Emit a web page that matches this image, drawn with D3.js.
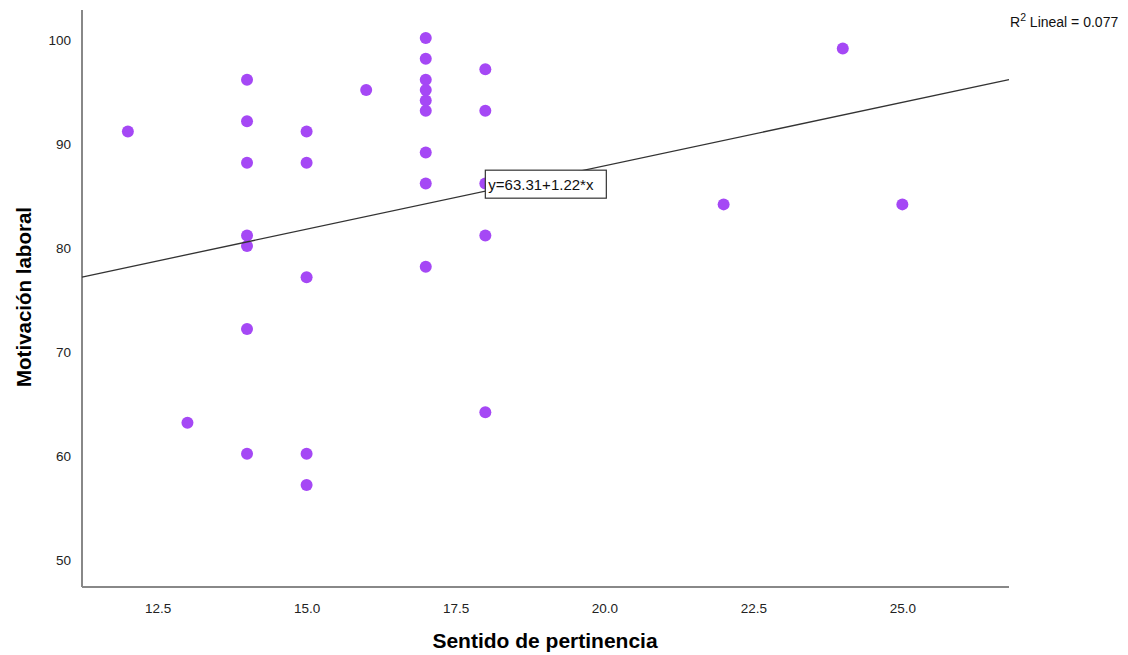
<!DOCTYPE html>
<html><head><meta charset="utf-8">
<script src="https://cdn.jsdelivr.net/npm/d3@7"></script>
<style>body{margin:0;background:#fff}svg{display:block;font-family:"Liberation Sans",Arial,sans-serif}</style>
</head><body><svg id="c" width="1128" height="655"></svg>
<script>
const sentido = [12,13,14,14,14,14,14,14,14,15,15,15,15,15,16,17,17,17,17,17,17,17,17,17,18,18,18,18,18,22,24,25];
const motivacion = [91,63,96,92,88,81,80,72,60,91,88,77,60,57,95,100,98,96,95,94,93,89,86,78,97,93,86,81,64,84,99,84];
const xTicks = [12.5,15.0,17.5,20.0,22.5,25.0];
const yTicks = [50,60,70,80,90,100];
const intercept = 63.31, slope = 1.22;
const r2Label = "0.077";

const svg = d3.select("#c");
const L=82, R=1009, T=10, B=587;
const x = d3.scaleLinear().domain([11.23,26.79]).range([L,R]);
const y = d3.scaleLinear().domain([47.19,102.7]).range([B,T]);

// axes
const ax = svg.append("g").attr("transform",`translate(0,${B})`)
  .call(d3.axisBottom(x).tickValues(xTicks).tickFormat(d3.format(".1f")).tickSize(0).tickPadding(16));
const ay = svg.append("g").attr("transform",`translate(${L},0)`)
  .call(d3.axisLeft(y).tickValues(yTicks).tickFormat(d3.format("d")).tickSize(0).tickPadding(11));
[ax,ay].forEach(g=>{
  g.select(".domain").attr("stroke","#888").attr("stroke-width",2);
  g.selectAll("text").attr("font-size",13.5).attr("fill","#222").attr("font-family","Liberation Sans, Arial, sans-serif");
});
ay.selectAll("text").attr("dy","0.5em");
ax.select(".domain").attr("d",`M${L},0H${R}`);
ay.select(".domain").attr("d",`M0,${T}V${B}`);

// points
svg.append("g").selectAll("circle").data(sentido.map((s,i)=>[s,motivacion[i]])).join("circle")
  .attr("cx",d=>x(d[0])).attr("cy",d=>y(d[1])).attr("r",6).attr("fill","#a548f5");

// fit line
const xd = x.domain();
svg.append("line").attr("x1",x(xd[0])).attr("y1",y(intercept+slope*xd[0]))
  .attr("x2",x(xd[1])).attr("y2",y(intercept+slope*xd[1]))
  .attr("stroke","#333").attr("stroke-width",1.3);

// equation box
const bx = x(18), byy = y(intercept+slope*18);
const eq = svg.append("g");
eq.append("rect").attr("x",bx).attr("y",byy-21).attr("width",121).attr("height",28)
  .attr("fill","#fff").attr("stroke","#333").attr("stroke-width",1.2);
eq.append("text").attr("x",bx+3).attr("y",byy-1).attr("font-size",15).attr("fill","#111")
  .text(`y=${intercept}+${slope}*x`);

// R2 label
const r2 = svg.append("text").attr("x",1010).attr("y",27).attr("font-size",14).attr("fill","#111");
r2.append("tspan").text("R");
r2.append("tspan").attr("dy",-6).attr("font-size",10.5).text("2");
r2.append("tspan").attr("dy",6).text(" Lineal = "+r2Label);

// axis titles
svg.append("text").attr("x",545).attr("y",648).attr("text-anchor","middle")
  .attr("font-size",21).attr("font-weight","bold").attr("fill","#000").text("Sentido de pertinencia");
svg.append("text").attr("transform","translate(31,297) rotate(-90)").attr("text-anchor","middle")
  .attr("font-size",20.5).attr("font-weight","bold").attr("fill","#000").text("Motivación laboral");
</script></body></html>
